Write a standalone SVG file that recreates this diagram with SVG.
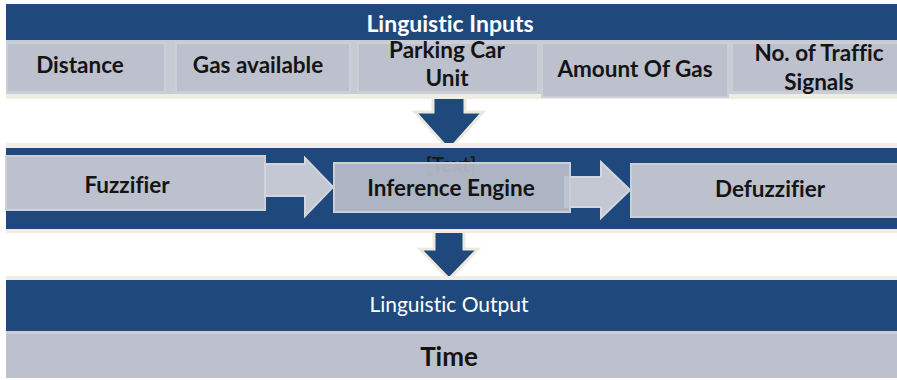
<svg xmlns="http://www.w3.org/2000/svg" width="897" height="380" viewBox="0 0 897 380">
  <defs>
    <style>
      .band { fill: #1f497d; }
      .shade { fill: #efede4; }
      .row { fill: #c7cbd4; }
      .box { fill: #bcc1cd; stroke: #cbcfd8; stroke-width: 2; }
      text { font-variant-ligatures: none; }
      .label { font-family: Lato, "Liberation Sans", sans-serif; font-weight: bold; fill: #141414; text-anchor: middle; font-size: 22.5px; }
      .title { font-family: Lato, "Liberation Sans", sans-serif; fill: #ffffff; text-anchor: middle; }
      .down { fill: #1f497d; stroke: #ebe9dc; stroke-width: 3; stroke-linejoin: miter; }
      .right { fill: #c4c8d2; stroke: #d3d6de; stroke-width: 2; }
    </style>
  </defs>
  <rect width="897" height="380" fill="#ffffff"/>

  <!-- connectors: block arrows between stages -->
  <g id="connectors">
    <polygon class="down" points="433,92 465,92 465,112 483,112 449,150 415,112 433,112"/>
    <polygon class="down" points="434,226 464,226 464,249 478,249 449,279 420,249 434,249"/>
  </g>

  <!-- linguistic inputs -->
  <g id="inputs">
    <rect class="shade" x="6" y="94" width="891" height="5"/>
    <rect class="band" x="6" y="4" width="891" height="37"/>
    <rect class="row" x="6" y="40" width="891" height="54"/>
    <text class="title" x="450" y="32" font-size="23" font-weight="bold">Linguistic Inputs</text>
  </g>
  <g id="in-distance">
    <rect class="box" x="7" y="43" width="158" height="49"/>
    <text class="label" x="80" y="73">Distance</text>
  </g>
  <g id="in-gas">
    <rect class="box" x="176" y="43" width="174" height="49"/>
    <text class="label" x="258" y="73">Gas available</text>
  </g>
  <g id="in-parking">
    <rect class="box" x="358" y="43" width="180" height="49"/>
    <text class="label" x="447" y="58">Parking Car</text>
    <text class="label" x="447" y="86">Unit</text>
  </g>
  <g id="in-amount">
    <rect class="box" x="542" y="43" width="186" height="54"/>
    <text class="label" x="635" y="77">Amount Of Gas</text>
  </g>
  <g id="in-signals">
    <rect class="box" x="732" y="43" width="166" height="49"/>
    <text class="label" x="819" y="61">No. of Traffic</text>
    <text class="label" x="819" y="90">Signals</text>
  </g>

  <!-- processing band -->
  <g id="processing">
    <rect class="shade" x="6" y="143" width="891" height="90"/>
    <rect class="band" x="6" y="148" width="891" height="81"/>
    <text x="451" y="172" font-family="Lato, 'Liberation Sans', sans-serif" font-weight="bold" font-size="20" fill="#1a1a1a" text-anchor="middle">[Text]</text>
  </g>
  <g id="fuzzifier">
    <rect class="box" x="6" y="156" width="259" height="54"/>
    <text class="label" x="127" y="193">Fuzzifier</text>
  </g>
  <g id="arrows-right">
    <polygon class="right" points="265,164 305,164 305,158 333,187 305,216 305,196 265,196"/>
    <polygon class="right" points="565,177 601,177 601,162 630,190 601,218 601,207 565,207"/>
  </g>
  <g id="inference">
    <rect class="box" x="334" y="163" width="236" height="49" fill-opacity="0.9"/>
    <text class="label" x="451" y="196">Inference Engine</text>
  </g>
  <g id="defuzzifier">
    <rect class="box" x="631" y="164" width="267" height="53"/>
    <text class="label" x="770" y="197">Defuzzifier</text>
  </g>

  <!-- linguistic output -->
  <g id="output">
    <rect class="shade" x="6" y="276" width="891" height="5"/>
    <rect class="band" x="6" y="280" width="891" height="51"/>
    <rect fill="#bcc1cd" x="6" y="332" width="891" height="46"/>
    <rect fill="#c9cdd6" x="6" y="331" width="891" height="3"/>
    <text class="title" x="449" y="312" font-size="21">Linguistic Output</text>
  </g>
  <g id="out-time">
    <text class="label" x="449" y="366" style="font-size:26px">Time</text>
  </g>
</svg>
